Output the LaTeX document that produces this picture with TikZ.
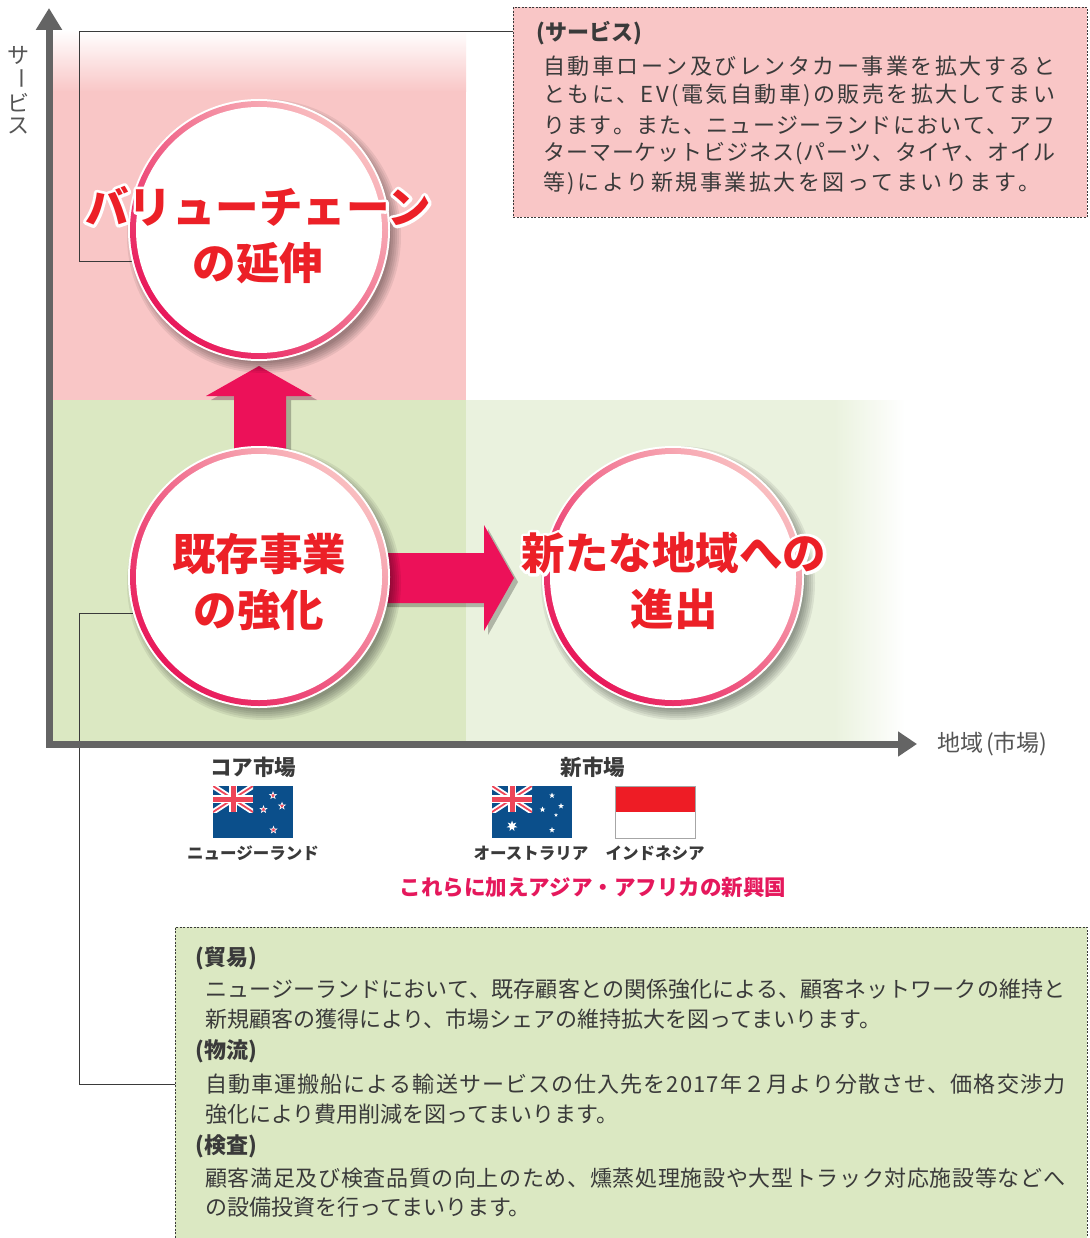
\documentclass[tikz,border=0pt]{standalone}
\usepackage{fontspec}
\setmainfont{Noto Sans CJK JP}
\usetikzlibrary{arrows.meta,shapes.geometric,calc}
\definecolor{pinkbg}{HTML}{F9C6C6}
\definecolor{greenbg}{HTML}{DBE8C2}
\definecolor{lgreen}{HTML}{EAF2DE}
\definecolor{axisgray}{HTML}{646464}
\definecolor{txt}{HTML}{3A3A3A}
\definecolor{circred}{HTML}{EC2027}
\definecolor{arrowred}{HTML}{EC1159}
\definecolor{ringdark}{HTML}{E8185A}
\definecolor{ringmid}{HTML}{F07A8E}
\definecolor{ringlight}{HTML}{F9BEC0}
\definecolor{magtxt}{HTML}{E5185C}
\definecolor{flagblue}{HTML}{0B4F8B}
\definecolor{flagred}{HTML}{EE4558}
\definecolor{idred}{HTML}{EE1C25}
% white outline: stroke-only copy under the filled text
\newcommand\halo[1]{\leavevmode\rlap{\special{pdf:literal direct 1 Tr 6 w 1 j 1 1 1 RG}#1\special{pdf:literal direct 0 Tr}}#1}
\def\spr#1#2{\def\sprgap{#1}\spra#2\relax}
\def\spra#1{\ifx\relax#1\else#1\hskip\sprgap\expandafter\spra\fi}
\newcommand\jline[2]{\hbox to #1{\spr{0pt plus 1fil}{#2}\unskip}}
\newcommand\lsline[2]{\hbox{\spr{#1}{#2}\unskip}}
\newcommand\ringat[1]{%
  \foreach \k in {0,...,5} {\fill[black,opacity=0.07] ($(#1)+(5,6)$) circle ({137-2*\k});}
  \fill[white] (#1) circle (131);
  \shade[top color=ringlight, middle color=ringmid, bottom color=ringdark, shading angle=-45] (#1) circle (129);
  \fill[white] (#1) circle (123);
}
\begin{document}
\begin{tikzpicture}[x=1pt,y=-1pt,
  body/.style={inner sep=0, anchor=west, text=txt, font=\fontsize{22}{26}\selectfont},
  head/.style={inner sep=0, anchor=west, text=txt, font=\fontsize{22}{26}\selectfont\bfseries},
  conn/.style={draw=txt, line width=1pt},
  axisline/.style={draw=axisgray, line width=7pt, line join=miter,
     {Triangle[length=22pt,width=25pt]}-{Triangle[length=19pt,width=24pt]}},
  circtxt/.style={inner sep=0, align=center, text=circred, font=\fontsize{43.5}{56}\selectfont\bfseries},
  ring/.style={circle, minimum size=262pt, inner sep=0},
  lab/.style={inner sep=0, text=txt, font=\fontsize{21.5}{24}\selectfont\bfseries},
  flab/.style={inner sep=0, text=txt, font=\fontsize{16.5}{20}\selectfont\bfseries},
  maglab/.style={inner sep=0, text=magtxt, font=\fontsize{21.5}{24}\selectfont\bfseries},
  vlab/.style={inner sep=0, text=axisgray!85!black, font=\fontsize{22}{24}\selectfont},
  nzstar/.style={star, star points=5, star point ratio=2.4, fill=flagred, draw=white, line width=0.6pt, minimum size=7pt, inner sep=0},
  austar/.style={star, star points=5, star point ratio=2.4, fill=white, minimum size=6pt, inner sep=0},
  boxA/.style={draw=txt, dash pattern=on 2pt off 1.5pt, line width=0.9pt, fill=pinkbg, inner sep=0, anchor=north west},
  boxB/.style={draw=txt, dash pattern=on 2pt off 1.5pt, line width=0.9pt, fill=greenbg, inner sep=0, anchor=north west}
]
\useasboundingbox (0,0) rectangle (1089,1238);
\fill[white] (0,0) rectangle (1089,1238);

% background regions
\shade[top color=white, bottom color=pinkbg] (52,30) rectangle (466,92);
\fill[pinkbg] (52,91.5) rectangle (466,400);
\fill[greenbg] (52,400) rectangle (466,741);
\fill[lgreen] (466,400) rectangle (835,741);
\shade[left color=lgreen, right color=white] (834.5,400) rectangle (905,741);

% boxes
\node[boxA, minimum width=574pt, minimum height=210pt] (sbox) at (513,7) {};
\node[boxB, minimum width=912pt, minimum height=314pt] (gbox) at (175,927) {};

% circle anchor nodes
\node[ring] (tc) at (259,230) {};
\node[ring] (bc) at (259,577) {};
\node[ring] (rc) at (673,577) {};

% connectors
\draw[conn] ($(sbox.north west)+(0,25)$) -| ([xshift=-52pt]tc.194) -- (tc.194);
\draw[conn] (bc.196) -- ([xshift=-53pt]bc.196) |- (gbox.west);

% axes
\coordinate (ytip) at (49,8);
\coordinate (orig) at (49,744);
\coordinate (xtip) at (917,744);
\draw[axisline] (ytip) -- (orig) -- (xtip);

\node[vlab] (v1) at (18,55) {サ};
\node[vlab, rotate=-90] (v2) at (18,79) {ー};
\node[vlab] (v3) at (18,103) {ビ};
\node[vlab] (v4) at (18,126) {ス};
\node[inner sep=0, anchor=west, text=axisgray!85!black, font=\fontsize{23}{24}\selectfont] (xl) at (937,744) {地域\hspace{3pt}(市場)};

% block arrows
\fill[black, opacity=0.25] (239,470) -- (239,400) -- (211,400) -- (264,370) -- (317,400) -- (291,400) -- (291,470) -- cycle;
\fill[arrowred] (234,470) -- (234,396) -- (206,396) -- (259,366) -- (312,396) -- (286,396) -- (286,470) -- cycle;
\fill[black, opacity=0.25] (364,557) -- (488,557) -- (488,529) -- (518,582) -- (488,635) -- (488,607) -- (364,607) -- cycle;
\fill[arrowred] (360,553) -- (484,553) -- (484,525) -- (514,578) -- (484,631) -- (484,603) -- (360,603) -- cycle;

% circles
\ringat{tc}
\ringat{bc}
\ringat{rc}

\node[circtxt] (tct) at (258,235) {\halo{バリューチェーン}\\\halo{の延伸}};
\node[circtxt] (bct) at (259,582) {\halo{既存事業}\\\halo{の強化}};
\node[circtxt] (rct) at (674,581) {\halo{新たな地域への}\\\halo{進出}};

% service box text
\node[head] (sh) at (536,33) {(サービス)};
\node[body] (s1) at (543,66) {\jline{512pt}{自動車ローン及びレンタカー事業を拡大すると}};
\node[body] (s2) at (543,95.5) {\jline{512pt}{ともに、EV(電気自動車)の販売を拡大してまい}};
\node[body] (s3) at (543,125) {\jline{512pt}{ります。また、ニュージーランドにおいて、アフ}};
\node[body] (s4) at (543,154) {\jline{512pt}{ターマーケットビジネス(パーツ、タイヤ、オイル}};
\node[body] (s5) at (543,183) {\lsline{2.5pt}{等)により新規事業拡大を図ってまいります。}};

% market labels
\node[lab] (cm) at (253,767) {コア市場};
\node[lab] (nm) at (593,767) {新市場};
\node[flab] (nzl) at (253,853) {ニュージーランド};
\node[flab] (aul) at (531,853) {オーストラリア};
\node[flab] (idl) at (655,853) {インドネシア};
\node[maglab] (ml) at (593,887) {これらに加えアジア・アフリカの新興国};

% NZ flag
\begin{scope}[shift={(213,786)}]
  \fill[flagblue] (0,0) rectangle (80,52);
  \begin{scope}
    \clip (0,0) rectangle (40,26);
    \draw[white, line width=5.5pt] (0,0) -- (40,26) (0,26) -- (40,0);
    \draw[flagred, line width=1.8pt] (0,0) -- (40,26) (0,26) -- (40,0);
    \draw[white, line width=8.5pt] (20,0) -- (20,26) (0,13) -- (40,13);
    \draw[flagred, line width=5pt] (20,0) -- (20,26) (0,13) -- (40,13);
  \end{scope}
  \node[nzstar] (nz1) at (60,9.5) {};
  \node[nzstar] (nz2) at (69,20) {};
  \node[nzstar] (nz3) at (50.5,23.5) {};
  \node[nzstar] (nz4) at (60.5,44) {};
\end{scope}

% AU flag
\begin{scope}[shift={(492,786)}]
  \fill[flagblue] (0,0) rectangle (80,52);
  \begin{scope}
    \clip (0,0) rectangle (40,26);
    \draw[white, line width=5.5pt] (0,0) -- (40,26) (0,26) -- (40,0);
    \draw[flagred, line width=1.8pt] (0,0) -- (40,26) (0,26) -- (40,0);
    \draw[white, line width=8.5pt] (20,0) -- (20,26) (0,13) -- (40,13);
    \draw[flagred, line width=5pt] (20,0) -- (20,26) (0,13) -- (40,13);
  \end{scope}
  \node[star, star points=7, star point ratio=2.2, fill=white, minimum size=11pt, inner sep=0] (au0) at (20,40) {};
  \node[austar] (au1) at (60,9.5) {};
  \node[austar] (au2) at (69,20) {};
  \node[austar] (au3) at (50.5,23.5) {};
  \node[austar, minimum size=4pt] (au4) at (64,29) {};
  \node[austar] (au5) at (60,44) {};
\end{scope}

% Indonesia flag
\fill[idred] (615,786) rectangle (695,812);
\fill[white] (615,812) rectangle (695,838);
\draw[gray!70, line width=0.8pt] (615,786) rectangle (695,838);

% green box text
\node[head] (g0) at (195,958) {(貿易)};
\node[body] (g1) at (205,989) {\jline{860pt}{ニュージーランドにおいて、既存顧客との関係強化による、顧客ネットワークの維持と}};
\node[body] (g2) at (205,1019) {新規顧客の獲得により、市場シェアの維持拡大を図ってまいります。};
\node[head] (g3) at (195,1051) {(物流)};
\node[body] (g4) at (205,1084) {\jline{860pt}{自動車運搬船による輸送サービスの仕入先を2017年２月より分散させ、価格交渉力}};
\node[body] (g5) at (205,1114) {強化により費用削減を図ってまいります。};
\node[head] (g6) at (195,1146) {(検査)};
\node[body] (g7) at (205,1178) {\jline{860pt}{顧客満足及び検査品質の向上のため、燻蒸処理施設や大型トラック対応施設等などへ}};
\node[body] (g8) at (205,1207) {の設備投資を行ってまいります。};
\end{tikzpicture}
\end{document}
